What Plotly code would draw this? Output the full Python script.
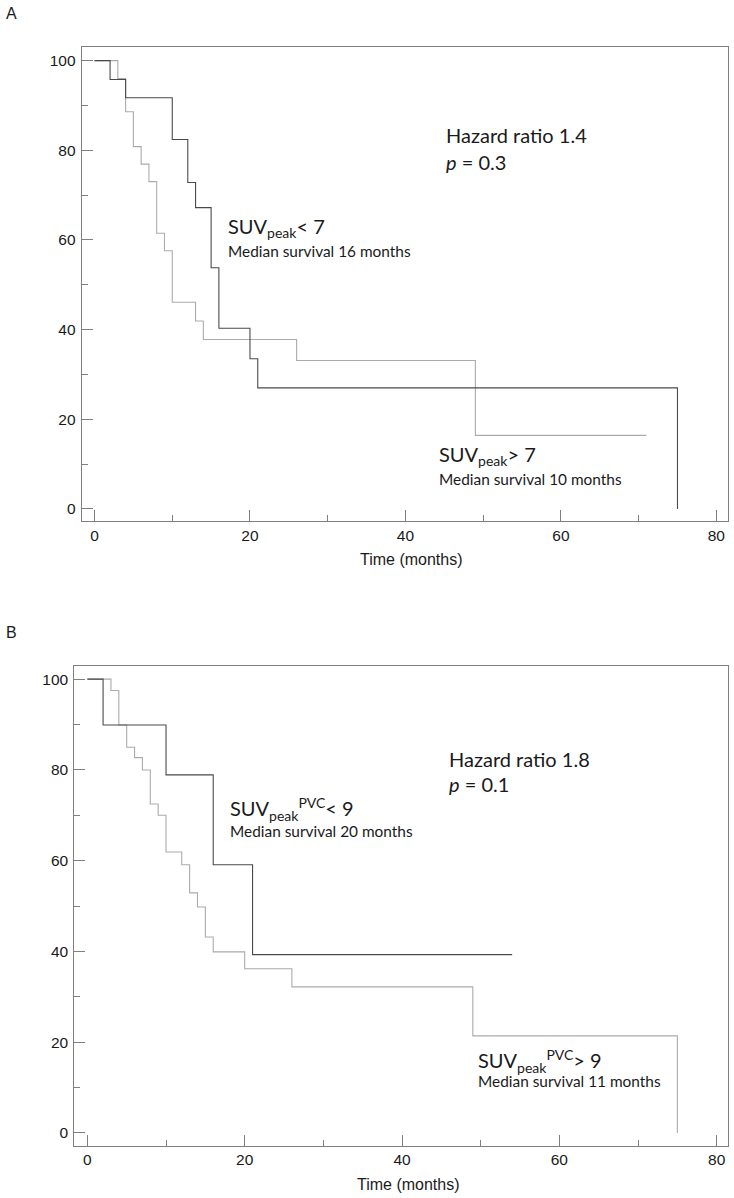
import plotly.graph_objects as go

# ---------------- data ----------------
# Panel A
a_low_t = [0, 2, 4, 10, 12, 13, 15, 16, 20, 21, 75]
a_low_s = [100, 95.8, 91.7, 82.4, 72.8, 67.2, 53.8, 40.3, 33.5, 27.0, 0]
a_high_t = [0, 3, 4, 5, 6, 7, 8, 9, 10, 13, 14, 26, 49, 71]
a_high_s = [100, 96.0, 88.6, 80.8, 76.9, 73.0, 61.5, 57.6, 46.1, 41.9, 37.8, 33.1, 16.4, 16.4]
# Panel B
b_low_t = [0, 2, 10, 16, 21, 54]
b_low_s = [100, 89.9, 78.9, 59.1, 39.3, 39.3]
b_high_t = [0, 3, 4, 5, 6, 7, 8, 9, 10, 12, 13, 14, 15, 16, 20, 26, 49, 75]
b_high_s = [100, 97.5, 89.9, 85.0, 82.7, 80.0, 72.5, 70.0, 61.9, 59.1, 52.9, 49.8, 43.2, 39.9, 36.2, 32.2, 21.4, 0]

x_ticks = [0, 20, 40, 60, 80]
y_ticks = [0, 20, 40, 60, 80, 100]
x_title = "Time (months)"
panel_labels = ["A", "B"]
hr_text = ["Hazard ratio 1.4", "Hazard ratio 1.8"]
p_text = ["<i>p</i> = 0.3", "<i>p</i> = 0.1"]
low_label = ["SUV<sub>peak</sub>< 7", "SUV<sub>peak</sub><sup>PVC</sup>< 9"]
low_median = ["Median survival 16 months", "Median survival 20 months"]
high_label = ["SUV<sub>peak</sub>> 7", "SUV<sub>peak</sub><sup>PVC</sup>> 9"]
high_median = ["Median survival 10 months", "Median survival 11 months"]

DARK = "#4a4a4a"
LIGHT = "#ababab"
FRAME = "#7f7f7f"
TXT = "#1a1a1a"
ANN_FONT = "Lato, Carlito, sans-serif"
AX_FONT = "Liberation Sans, Arial, sans-serif"

W, H = 734, 1198

fig = go.Figure()

fig.add_trace(go.Scatter(x=a_high_t, y=a_high_s, mode="lines", line=dict(shape="hv", color=LIGHT, width=1.1),
                         xaxis="x", yaxis="y", showlegend=False))
fig.add_trace(go.Scatter(x=a_low_t, y=a_low_s, mode="lines", line=dict(shape="hv", color=DARK, width=1.1),
                         xaxis="x", yaxis="y", showlegend=False))
fig.add_trace(go.Scatter(x=b_high_t, y=b_high_s, mode="lines", line=dict(shape="hv", color=LIGHT, width=1.1),
                         xaxis="x2", yaxis="y2", showlegend=False))
fig.add_trace(go.Scatter(x=b_low_t, y=b_low_s, mode="lines", line=dict(shape="hv", color=DARK, width=1.1),
                         xaxis="x2", yaxis="y2", showlegend=False))


def px_dom_x(l, r):
    return [l / W, r / W]


def px_dom_y(top, bottom):
    return [1 - bottom / H, 1 - top / H]


def xaxis(domain, rng, anchor):
    return dict(domain=domain, range=rng, anchor=anchor, tickvals=x_ticks, ticks="inside", ticklen=11,
                tickcolor=FRAME, tickwidth=1, showline=True, linecolor=FRAME, linewidth=1, mirror=True,
                showgrid=False, zeroline=False, tickfont=dict(family=AX_FONT, size=15.5, color=TXT),
                minor=dict(dtick=10, tick0=0, ticks="inside", ticklen=6, tickcolor=FRAME, showgrid=False))


def yaxis(domain, rng, anchor):
    return dict(domain=domain, range=rng, anchor=anchor, tickvals=y_ticks, ticks="inside", ticklen=11,
                tickcolor=FRAME, tickwidth=1, showline=True, linecolor=FRAME, linewidth=1, mirror=True,
                showgrid=False, zeroline=False, tickfont=dict(family=AX_FONT, size=15.5, color=TXT),
                ticklabelstandoff=2,
                minor=dict(dtick=10, tick0=0, ticks="inside", ticklen=6, tickcolor=FRAME, showgrid=False))


fig.update_layout(
    width=W, height=H, margin=dict(l=0, r=0, t=0, b=0),
    paper_bgcolor="white", plot_bgcolor="white",
    xaxis=xaxis(px_dom_x(81.7, 728), [-1.65, 81.5], "y"),
    yaxis=yaxis(px_dom_y(46.7, 521), [-2.7, 103.1], "x"),
    xaxis2=xaxis(px_dom_x(74.3, 727.7), [-1.66, 81.4], "y2"),
    yaxis2=yaxis(px_dom_y(666, 1145.7), [-2.8, 102.9], "x2"),
)

anns = []
# panel letters
for i, yy in enumerate([14, 632]):
    anns.append(dict(text=panel_labels[i], x=4 / W, y=1 - yy / H, xref="paper", yref="paper",
                     xanchor="left", yanchor="middle", showarrow=False,
                     font=dict(family=AX_FONT, size=16, color=TXT)))

# x-axis titles
for (cx, cy) in [(411.5, 559.3), (408.7, 1184)]:
    anns.append(dict(text=x_title, x=cx / W, y=1 - cy / H, xref="paper", yref="paper",
                     xanchor="center", yanchor="middle", showarrow=False,
                     font=dict(family=AX_FONT, size=16, color=TXT)))

# text annotations (data coordinates)
spec = [
    # (axis suffix, hr pos, p pos, low label pos, low median pos, high label pos, high median pos)
    ("", (45.0, 83.3), (45.0, 77.3), (16.9, 62.7), (16.9, 57.5), (44.1, 12.0), (44.1, 6.6)),
    ("2", (45.7, 82.4), (45.7, 77.0), (17.9, 71.5), (17.9, 66.5), (49.4, 15.8), (49.4, 11.5)),
]
for i, (s, hr, pp, ll, lm, hl, hm) in enumerate(spec):
    for txt, pos, size in [(hr_text[i], hr, 20), (p_text[i], pp, 20), (low_label[i], ll, 20),
                           (low_median[i], lm, 15.4), (high_label[i], hl, 20), (high_median[i], hm, 15.4)]:
        anns.append(dict(text=txt, x=pos[0], y=pos[1], xref="x" + s, yref="y" + s, xanchor="left",
                         yanchor="middle", showarrow=False,
                         font=dict(family=ANN_FONT, size=size, color=TXT)))

fig.update_layout(annotations=anns)

fig.write_html("out.html", config={"displayModeBar": False},
               post_script="document.body.style.margin='0';")
